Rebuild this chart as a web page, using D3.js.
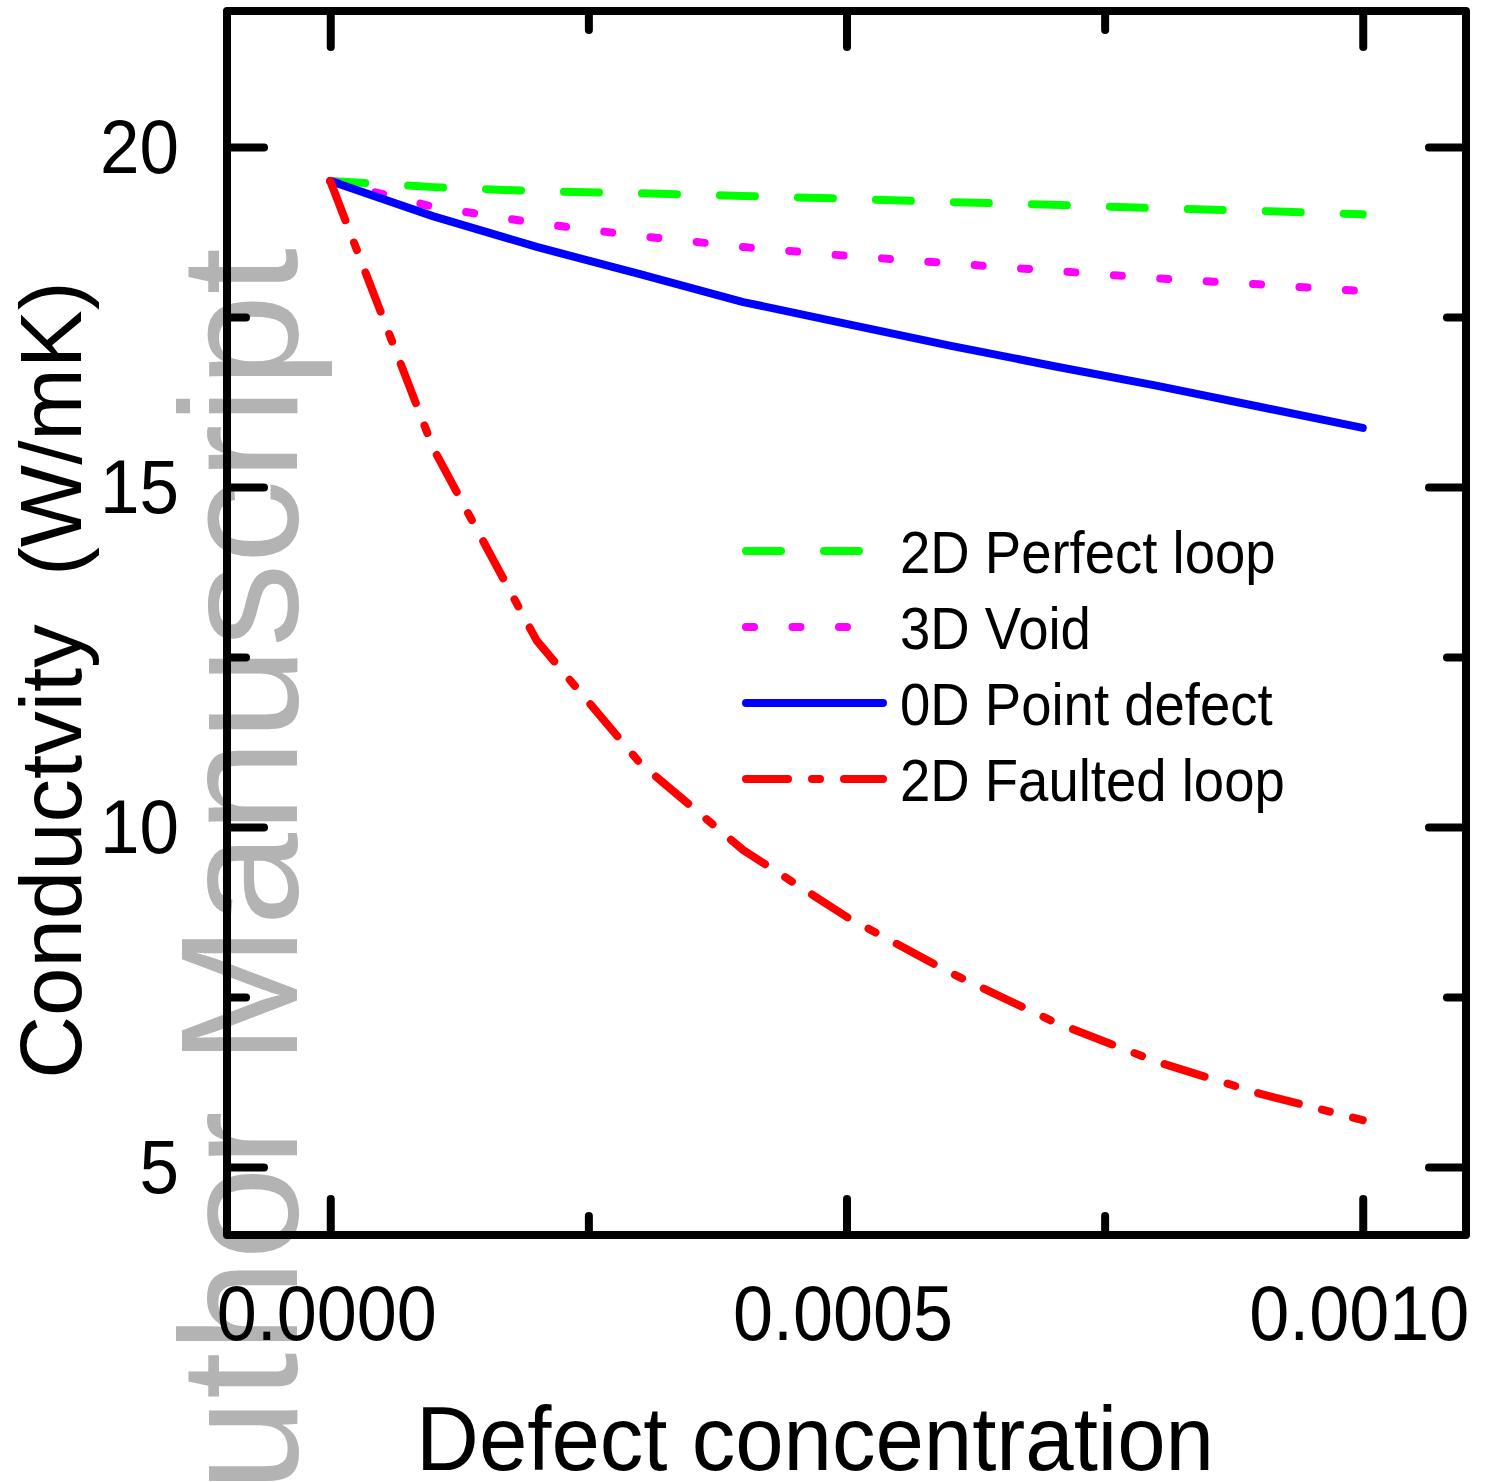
<!DOCTYPE html>
<html><head><meta charset="utf-8">
<script src="https://cdn.jsdelivr.net/npm/d3@7"></script>
<style>
html,body{margin:0;padding:0;background:#fff;}
svg{display:block;}
text{font-family:"Liberation Sans",Arial,Helvetica,sans-serif;}
</style></head><body>
<svg id="chart" width="1485" height="1482"></svg>
<script>
// ---- data ----
const concentration = [0, 0.0001, 0.0002, 0.0003, 0.0004, 0.0005, 0.0006, 0.0007, 0.0008, 0.0009, 0.0010];
const perfectLoop2D = [19.50, 19.41, 19.35, 19.32, 19.28, 19.24, 19.19, 19.15, 19.10, 19.06, 19.01];
const void3D        = [19.50, 19.12, 18.88, 18.69, 18.53, 18.40, 18.29, 18.18, 18.07, 17.98, 17.88];
const pointDefect0D = [19.50, 18.98, 18.53, 18.13, 17.72, 17.40, 17.08, 16.78, 16.49, 16.18, 15.87];
const faultedLoop2D = [19.50, 15.56, 12.74, 10.94, 9.66, 8.68, 7.86, 7.14, 6.55, 6.08, 5.69];

const seriesNames  = ["2D Perfect loop", "3D Void", "0D Point defect", "2D Faulted loop"];
const seriesValues = [perfectLoop2D, void3D, pointDefect0D, faultedLoop2D];
const seriesColors = ["#00ff00", "#ff00ff", "#0000ff", "#ff0000"];
const seriesDashes = ["35,43", "8,38.5", null, "42,24,8,24"];

const xMajorTicks = [0, 0.0005, 0.0010];
const xTickLabels = ["0.0000", "0.0005", "0.0010"];
const xMinorTicks = [0.00025, 0.00075];
const yMajorTicks = [5, 10, 15, 20];
const yTickLabels = ["5", "10", "15", "20"];
const yMinorTicks = [7.5, 12.5, 17.5];

const xTitle = "Defect concentration";
const yTitle = "Conductvity  (W/mK)";
const watermark = "Author Manuscript";

// ---- layout ----
const L = 227, R = 1466, T = 11, B = 1235;
const svg = d3.select("#chart");
const x = d3.scaleLinear().domain([-0.0001, 0.0011]).range([L, R]);
const y = d3.scaleLinear().domain([4, 22]).range([B, T]);

// watermark (behind everything)
svg.append("text")
  .attr("transform", "translate(297,248) rotate(-90)")
  .attr("text-anchor", "end")
  .attr("font-size", 167)
  .attr("fill", "#b3b3b3")
  .text(watermark);

// data lines
const line = d3.line().x((d, i) => x(concentration[i])).y(d => y(d));
[0, 1, 2, 3].forEach(k => {
  svg.append("path")
    .datum(seriesValues[k])
    .attr("d", line)
    .attr("fill", "none")
    .attr("stroke", seriesColors[k])
    .attr("stroke-width", 8)
    .attr("stroke-linecap", "round")
    .attr("stroke-linejoin", "round")
    .attr("stroke-dasharray", seriesDashes[k]);
});

// axes with inward ticks
function styleAxis(g) {
  g.select(".domain").remove();
  g.selectAll(".tick line").attr("stroke", "#000").attr("stroke-width", 8).attr("stroke-linecap", "round");
}
const fmtX = d => xTickLabels[xMajorTicks.indexOf(d)];
const fmtY = d => yTickLabels[yMajorTicks.indexOf(d)];

// bottom
const gB = svg.append("g").attr("transform", `translate(0,${B})`)
  .call(d3.axisBottom(x).tickValues(xMajorTicks).tickSize(-36).tickFormat(fmtX));
styleAxis(gB);
gB.selectAll(".tick text")
  .attr("font-size", 72).attr("fill", "#000")
  .attr("dy", null).attr("x", -4).attr("y", 105 / 1.08)
  .attr("transform", "scale(1,1.08)");
const gBm = svg.append("g").attr("transform", `translate(0,${B})`)
  .call(d3.axisBottom(x).tickValues(xMinorTicks).tickSize(-19).tickFormat(""));
styleAxis(gBm);
// top
const gT = svg.append("g").attr("transform", `translate(0,${T})`)
  .call(d3.axisTop(x).tickValues(xMajorTicks).tickSize(-36).tickFormat(""));
styleAxis(gT);
const gTm = svg.append("g").attr("transform", `translate(0,${T})`)
  .call(d3.axisTop(x).tickValues(xMinorTicks).tickSize(-19).tickFormat(""));
styleAxis(gTm);
// left
const gL = svg.append("g").attr("transform", `translate(${L},0)`)
  .call(d3.axisLeft(y).tickValues(yMajorTicks).tickSize(-37).tickFormat(fmtY));
styleAxis(gL);
gL.selectAll(".tick text")
  .attr("font-size", 71).attr("fill", "#000")
  .attr("text-anchor", "end")
  .attr("dy", null).attr("x", -48).attr("y", 25 / 1.08)
  .attr("transform", "scale(1,1.08)");
const gLm = svg.append("g").attr("transform", `translate(${L},0)`)
  .call(d3.axisLeft(y).tickValues(yMinorTicks).tickSize(-19).tickFormat(""));
styleAxis(gLm);
// right
const gR = svg.append("g").attr("transform", `translate(${R},0)`)
  .call(d3.axisRight(y).tickValues(yMajorTicks).tickSize(-37).tickFormat(""));
styleAxis(gR);
const gRm = svg.append("g").attr("transform", `translate(${R},0)`)
  .call(d3.axisRight(y).tickValues(yMinorTicks).tickSize(-19).tickFormat(""));
styleAxis(gRm);

// frame
svg.append("rect")
  .attr("x", L).attr("y", T).attr("width", R - L).attr("height", B - T)
  .attr("fill", "none").attr("stroke", "#000").attr("stroke-width", 8)
  .attr("stroke-linejoin", "round");

// axis titles
svg.append("text")
  .attr("transform", "translate(815,1470) scale(1,1.05)")
  .attr("text-anchor", "middle")
  .attr("font-size", 87)
  .attr("fill", "#000")
  .text(xTitle);
svg.append("text")
  .attr("transform", "translate(81,680) rotate(-90)")
  .attr("text-anchor", "middle")
  .attr("font-size", 87)
  .attr("fill", "#000")
  .style("white-space", "pre")
  .text(yTitle);

// legend
const legY = [551, 627, 703, 779];
const leg = svg.append("g");
seriesNames.forEach((name, k) => {
  leg.append("line")
    .attr("x1", 746).attr("x2", 883)
    .attr("y1", legY[k]).attr("y2", legY[k])
    .attr("stroke", seriesColors[k])
    .attr("stroke-width", 8)
    .attr("stroke-linecap", "round")
    .attr("stroke-dasharray", seriesDashes[k]);
  leg.append("text")
    .attr("transform", `translate(900,${legY[k] + 22}) scale(1,1.08)`)
    .attr("font-size", 54.5)
    .attr("fill", "#000")
    .text(name);
});
</script>
</body></html>
